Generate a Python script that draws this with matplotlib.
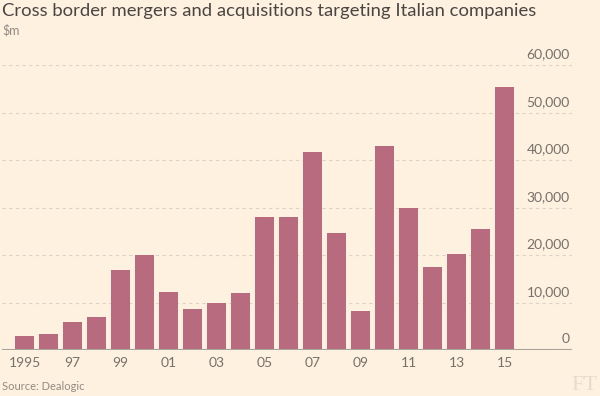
import matplotlib.pyplot as plt
from matplotlib.transforms import blended_transform_factory

# values, $m
years = [1995, 1996, 1997, 1998, 1999, 2000, 2001, 2002, 2003, 2004, 2005,
         2006, 2007, 2008, 2009, 2010, 2011, 2012, 2013, 2014, 2015]
values = [2900, 3400, 5800, 6900, 16800, 19900, 12300, 8600, 9800, 12000, 27900,
          28100, 41600, 24600, 8200, 43000, 29800, 17500, 20300, 25400, 55400]
xtick_years = [1995, 1997, 1999, 2001, 2003, 2005, 2007, 2009, 2011, 2013, 2015]
xtick_labels = ['1995', '97', '99', '01', '03', '05', '07', '09', '11', '13', '15']
yticks = [0, 10000, 20000, 30000, 40000, 50000, 60000]

bg = '#fff1e0'
bar_col = '#b86b7f'
grey = '#76706b'

plt.rcParams['font.family'] = ['Lato', 'DejaVu Sans']

fig = plt.figure(figsize=(6, 3.96), dpi=100, facecolor=bg)
ax = fig.add_axes([2/600, 1 - 350/396, 570/600, 285/396])
ax.set_facecolor(bg)

ax.bar(years, values, width=0.79, color=bar_col, zorder=3)

ax.set_xlim(1995 - 0.94, 2015 + 2.81)
ax.set_ylim(0, 60000)

# dashed gridlines
for v in yticks[1:]:
    ax.axhline(v, color='#ddd3c5', lw=0.8, ls=(0, (3, 3)), zorder=1)
ax.axhline(0, color='#a9a49c', lw=1.5, zorder=4)

for s in ax.spines.values():
    s.set_visible(False)
ax.set_yticks([])
ax.set_xticks(xtick_years)
ax.set_xticklabels(xtick_labels, fontsize=10, color=grey)
ax.tick_params(axis='x', length=0, pad=5)

# y labels sit above the gridlines, right aligned
tr = blended_transform_factory(ax.transAxes, ax.transData)
for v in yticks:
    ax.text(0.996, v + 1000, f'{v:,}', transform=tr, ha='right', va='bottom',
            fontsize=10, color=grey)

fig.text(2/600, 1 - 3/396, 'Cross border mergers and acquisitions targeting Italian companies',
         ha='left', va='top', fontsize=13.3, color='#4a4542')
fig.text(2/600, 1 - 24/396, '\\$m', ha='left', va='top', fontsize=9, color='#928b84')
fig.text(2/600, 1 - 386/396, 'Source: Dealogic', ha='left', va='center',
         fontsize=8, color='#928b84')
fig.text(597/600, 1 - 386/396, 'FT', ha='right', va='center', fontsize=16,
         family=['Liberation Serif', 'DejaVu Serif'], color='#e6dccd')

plt.savefig('out.png', dpi=100, facecolor=bg)
